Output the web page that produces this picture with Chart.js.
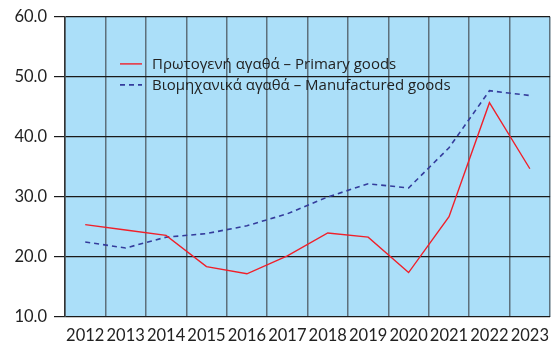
<!DOCTYPE html>
<html>
<head>
<meta charset="utf-8">
<script src="https://cdn.jsdelivr.net/npm/chart.js@4"></script>
<style>
  html, body { margin: 0; padding: 0; background: #fff; overflow: hidden; }
  #wrap { position: relative; width: 558px; height: 344px; }
</style>
</head>
<body>
<div id="wrap"><canvas id="goodsChart"></canvas></div>
<script>
// yearly values, two price series
const years = ["2012", "2013", "2014", "2015", "2016", "2017", "2018", "2019", "2020", "2021", "2022", "2023"];
const primaryGoods = [25.4, 24.5, 23.6, 18.4, 17.2, 20.2, 24.0, 23.3, 17.4, 26.7, 45.7, 34.7];
const manufacturedGoods = [22.5, 21.5, 23.3, 23.9, 25.2, 27.2, 30.0, 32.2, 31.5, 38.2, 47.7, 46.9];
const seriesLabels = ["Πρωτογενή αγαθά – Primary goods", "Βιομηχανικά αγαθά – Manufactured goods"];
const yTicks = [10, 20, 30, 40, 50, 60];

const FONT = "Lato, 'Open Sans', sans-serif";
const LEGEND_FONT = "'Open Sans', sans-serif";

// light blue fill behind the plot
const plotBg = {
  id: "plotBg",
  beforeDraw(chart) {
    const { ctx, chartArea: a } = chart;
    ctx.save();
    ctx.fillStyle = "#abdff9";
    ctx.fillRect(a.left, a.top, a.right - a.left, a.bottom - a.top);
    ctx.restore();
  },
};

// legend box sitting inside the plot
const innerLegend = {
  id: "innerLegend",
  afterDatasetsDraw(chart) {
    const { ctx, chartArea: a } = chart;
    ctx.save();
    ctx.font = "15px " + LEGEND_FONT;
    ctx.textBaseline = "middle";
    chart.data.datasets.forEach((ds, i) => {
      const y = a.top + 47 + i * 21;
      const x = a.left + 55;
      ctx.strokeStyle = ds.borderColor;
      ctx.lineWidth = ds.borderWidth;
      ctx.setLineDash(ds.borderDash || []);
      ctx.beginPath();
      ctx.moveTo(x, y);
      ctx.lineTo(x + 22, y);
      ctx.stroke();
      ctx.setLineDash([]);
      ctx.fillStyle = "#222";
      ctx.fillText(ds.label, x + 32, y + 1);
    });
    ctx.restore();
  },
};

new Chart(document.getElementById("goodsChart"), {
  type: "line",
  data: {
    labels: years,
    datasets: [
      {
        label: seriesLabels[0],
        data: primaryGoods,
        borderColor: "#f0202a",
        borderWidth: 1.4,
        pointRadius: 0,
        tension: 0,
      },
      {
        label: seriesLabels[1],
        data: manufacturedGoods,
        borderColor: "#343c9c",
        borderWidth: 1.6,
        borderDash: [5, 4],
        pointRadius: 0,
        tension: 0,
      },
    ],
  },
  options: {
    responsive: true,
    maintainAspectRatio: false,
    animation: false,
    layout: { padding: { top: 15, right: 0, left: 0, bottom: 0 } },
    plugins: {
      legend: { display: false },
      tooltip: { enabled: false },
    },
    scales: {
      x: {
        offset: true,
        grid: { offset: true, color: "#5d707c", lineWidth: 1.5, drawTicks: false },
        border: { display: false },
        ticks: { color: "#222", font: { family: FONT, size: 16.5 }, padding: 9, maxRotation: 0, autoSkip: false },
        afterFit: (s) => { s.height = 27; },
      },
      y: {
        min: 10,
        max: 60,
        afterBuildTicks: (s) => { s.ticks = yTicks.map((v) => ({ value: v })); },
        grid: { color: "#1a1a1a", lineWidth: 1.2, tickLength: 11 },
        border: { color: "#333", width: 1.5 },
        ticks: {
          color: "#222",
          font: { family: FONT, size: 16.5 },
          padding: 7,
          callback: (v) => Number(v).toFixed(1),
        },
        afterFit: (s) => { s.width = 65; },
      },
    },
  },
  plugins: [plotBg, innerLegend],
});
</script>
</body>
</html>
